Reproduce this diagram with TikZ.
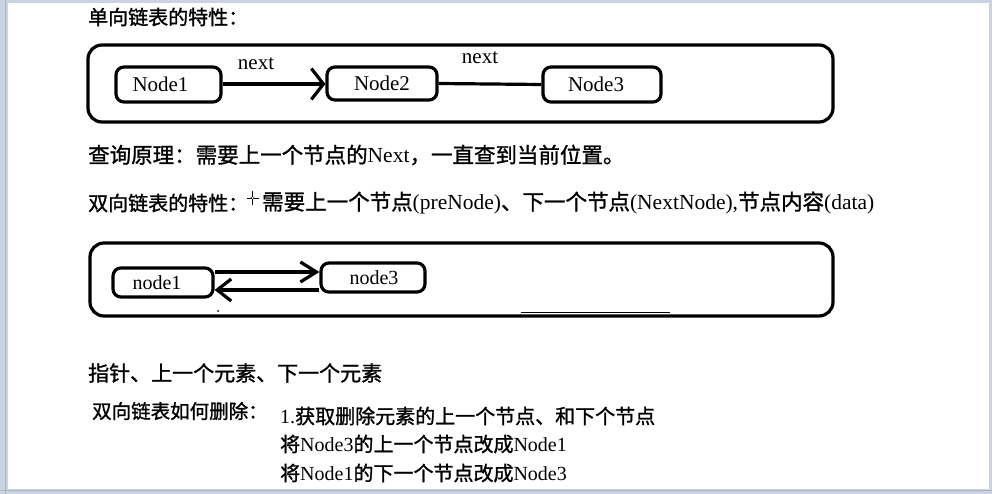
\documentclass[tikz,border=0pt]{standalone}
\usepackage{fontspec}
\setmainfont{Liberation Serif}
\newfontfamily\cjk{Noto Sans CJK SC}[FakeBold=1.2]
\usetikzlibrary{arrows.meta,calc}
\definecolor{frameblue}{HTML}{C9D3E2}
\definecolor{frameline}{HTML}{A9B4C4}
\tikzset{
  bigbox/.style={draw, line width=3.2pt, rounded corners=14pt, inner sep=0pt},
  nodebox/.style={draw, line width=3.2pt, rounded corners=8pt, inner sep=0pt, font=\fontsize{21}{23}\selectfont},
  link/.style={line width=3.2pt},
  txt/.style={anchor=west, inner sep=0pt, font=\fontsize{20}{24}\selectfont},
  widetxt/.style={anchor=west, inner sep=0pt, font=\fontsize{21.5}{24}\selectfont},
  smalltxt/.style={anchor=west, inner sep=0pt, font=\fontsize{19.5}{22}\selectfont},
  lbl/.style={inner sep=0pt, font=\fontsize{21}{23}\selectfont}
}
\begin{document}
\begin{tikzpicture}[x=1pt,y=-1pt]
\useasboundingbox (0,0) rectangle (992,494);
% screen frame
\fill[frameblue] (0,0) rectangle (992,494);
\fill[white] (8,3) rectangle (989,489);
\draw[frameline, line width=1pt] (5,0) -- (5,494);
\draw[frameline, line width=1pt] (0,490) -- (992,490);

% --- single linked list ---
\node[txt] (t1) at (88,17) {\cjk 单向链表的特性：};
\node[bigbox, minimum width=745pt, minimum height=77pt] (box1) at (460.5,83.5) {};
\node[nodebox, minimum width=105pt, minimum height=35pt] (n1) at (168.5,84.5) {\hspace*{-16pt}\raisebox{-4pt}{Node1}};
\node[nodebox, minimum width=110pt, minimum height=33pt] (n2) at (382,83.5) {Node2};
\node[nodebox, minimum width=118pt, minimum height=35pt] (n3) at (602,84.5) {\hspace*{-12pt}Node3};
\draw[link, -{Straight Barb[length=12pt,width=31pt,line width=3.2pt]}] ([yshift=0.5pt]n1.east) -- ([yshift=-0.5pt]n2.west);
\draw[link] (n2.east) -- (n3.west);
\node[lbl] (next1) at (256,64) {next};
\node[lbl] (next2) at (480,58) {next};

% --- text lines ---
\node[widetxt] (t2) at (88,155) {{\cjk 查询原理：需要上一个节点的}Next{\cjk ，一直查到当前位置。}};
\node[txt] (t3) at (88,203) {\cjk 双向链表的特性：};
\node[widetxt] (t4) at (262,203) {{\cjk 需要上一个节点}(preNode){\cjk 、下一个节点}(NextNode),{\cjk 节点内容}(data)};
% cursor mark
\coordinate (cur) at (252.5,198);
\draw[line width=0.6pt] ($(cur)+(0,-7)$) -- ($(cur)+(0,7)$);
\draw[line width=0.6pt] ($(cur)+(-6,0)$) -- ($(cur)+(6,0)$);
\draw[line width=0.5pt, fill=white] (cur) circle (1.6pt);

% --- double linked list ---
\node[bigbox, minimum width=743pt, minimum height=73pt] (box2) at (461.5,279.5) {};
\node[nodebox, font=\fontsize{20}{22}\selectfont, minimum width=100pt, minimum height=29pt] (l1) at (163,282.5) {\hspace*{-12pt}\raisebox{-2pt}{node1}};
\node[nodebox, font=\fontsize{20}{22}\selectfont, minimum width=104pt, minimum height=29pt] (l3) at (373,277.5) {\hspace*{2pt}node3};
\draw[link, -{Straight Barb[length=16pt,width=20pt,line width=3.2pt]}] ([yshift=10.5pt]l1.east) -- ([yshift=5.5pt]l3.west);
\draw[link, -{Straight Barb[length=14pt,width=22pt,line width=3.2pt]}] ([yshift=-12.5pt]l3.west) -- ([yshift=-7.5pt]l1.east);
\coordinate (segA) at (521,312.5);
\coordinate (segB) at (670,312.5);
\draw[line width=1.4pt] (segA) -- (segB);
\fill (218,311) circle (1pt);

% --- bottom text ---
\node[anchor=west, inner sep=0pt, font=\fontsize{21}{24}\selectfont] (t5) at (88,373) {\cjk 指针、上一个元素、下一个元素};
\node[smalltxt] (t6) at (92,411) {\cjk 双向链表如何删除：};
\node[txt] (t7) at (280,416) {1.{\cjk 获取删除元素的上一个节点、和下个节点}};
\node[txt] (t8) at (280,444) {{\cjk 将}Node3{\cjk 的上一个节点改成}Node1};
\node[txt] (t9) at (280,473) {{\cjk 将}Node1{\cjk 的下一个节点改成}Node3};
\end{tikzpicture}
\end{document}
